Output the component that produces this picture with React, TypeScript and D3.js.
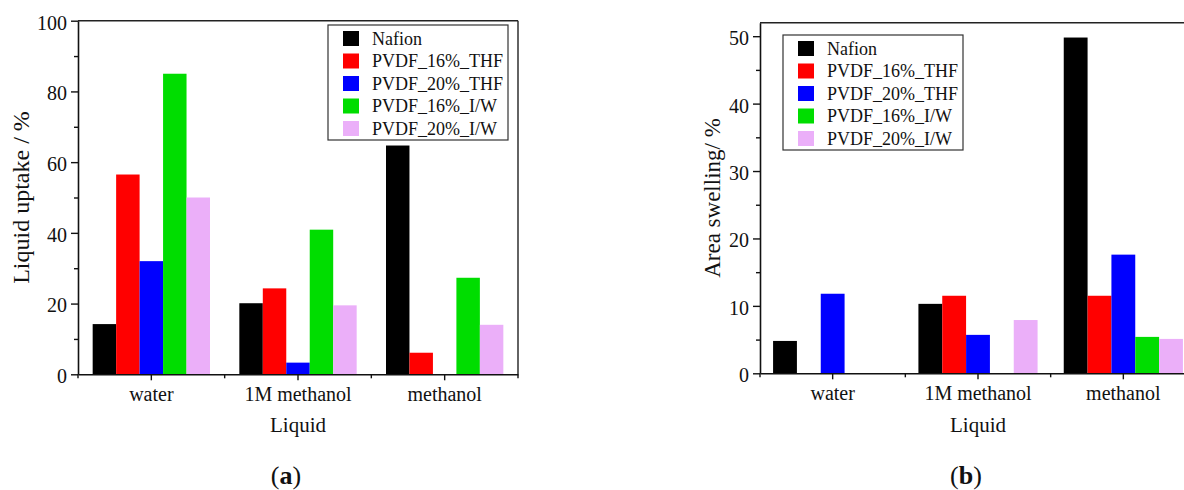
import React, { useEffect, useRef } from 'react';
import * as d3 from 'd3';

// categories and series
const categories = ['water', '1M methanol', 'methanol'];
const seriesNames = ['Nafion', 'PVDF_16%_THF', 'PVDF_20%_THF', 'PVDF_16%_I/W', 'PVDF_20%_I/W'];
const seriesColors = ['#000000', '#ff0000', '#0000ff', '#00dd00', '#ebaff9'];

// (a) liquid uptake / %
const uptakeNafion = [14.2, 20.1, 64.7];
const uptakePvdf16Thf = [56.5, 24.3, 6.1];
const uptakePvdf20Thf = [32.0, 3.3, 0];
const uptakePvdf16Iw = [85.0, 40.9, 27.3];
const uptakePvdf20Iw = [50.0, 19.5, 14.0];
const uptakeTicks = [0, 20, 40, 60, 80, 100];
const uptakeMinor = [10, 30, 50, 70, 90];

// (b) area swelling / %
const swellNafion = [4.8, 10.3, 49.8];
const swellPvdf16Thf = [0, 11.5, 11.5];
const swellPvdf20Thf = [11.8, 5.7, 17.6];
const swellPvdf16Iw = [0, 0, 5.4];
const swellPvdf20Iw = [0, 7.9, 5.1];
const swellTicks = [0, 10, 20, 30, 40, 50];
const swellMinor = [5, 15, 25, 35, 45];

const FONT = '"Liberation Serif", "Times New Roman", serif';

function drawPanel(svg, p) {
    const g = svg.append('g');

    const x = d3.scaleBand().domain(categories).range([p.x0, p.x1]).padding(0);
    const xs = d3.scaleBand()
        .domain(seriesNames)
        .range([x.bandwidth() * p.inset, x.bandwidth() * (1 - p.inset)])
        .padding(0);
    const y = d3.scaleLinear().domain([0, p.yMax]).range([p.y0, p.y1]);

    // bars
    p.series.forEach((vals, i) => {
        g.append('g')
            .selectAll('rect')
            .data(vals)
            .enter().append('rect')
            .attr('x', (d, j) => x(categories[j]) + xs(seriesNames[i]))
            .attr('y', d => y(d))
            .attr('width', xs.bandwidth())
            .attr('height', d => y(0) - y(d))
            .attr('fill', seriesColors[i]);
    });

    // frame (top + right)
    g.append('line')
        .attr('x1', p.x0).attr('x2', p.x1)
        .attr('y1', p.y1).attr('y2', p.y1)
        .attr('stroke', '#222').attr('stroke-width', 1.4);
    g.append('line')
        .attr('x1', p.x1).attr('x2', p.x1)
        .attr('y1', p.y1).attr('y2', p.y0)
        .attr('stroke', '#222').attr('stroke-width', 1.4);

    // y axis
    const yAxis = g.append('g')
        .attr('transform', `translate(${p.x0},0)`)
        .call(d3.axisLeft(y).tickValues(p.ticks).tickSize(7).tickPadding(4).tickSizeOuter(0))
        .attr('font-family', FONT)
        .attr('font-size', 20);
    g.append('g')
        .attr('transform', `translate(${p.x0},0)`)
        .call(d3.axisLeft(y).tickValues(p.minor).tickSize(4).tickFormat(() => '').tickSizeOuter(0))
        .select('.domain').remove();
    yAxis.selectAll('text')
        .attr('dy', '0.42em')
        .attr('fill', '#111');

    // x axis
    const xAxis = g.append('g')
        .attr('transform', `translate(0,${p.y0})`)
        .call(d3.axisBottom(x).tickSize(6).tickPadding(7).tickSizeOuter(0))
        .attr('font-family', FONT)
        .attr('font-size', 20);
    xAxis.selectAll('text').attr('fill', '#111');
    const bounds = categories.map(c => x(c)).concat([p.x1]);
    g.append('g')
        .selectAll('line')
        .data(bounds)
        .enter().append('line')
        .attr('x1', d => d).attr('x2', d => d)
        .attr('y1', p.y0).attr('y2', p.y0 + 4)
        .attr('stroke', '#111').attr('stroke-width', 1.4);

    g.selectAll('.domain').attr('stroke', '#111').attr('stroke-width', 1.6);
    g.selectAll('.tick line').attr('stroke', '#111').attr('stroke-width', 1.4);

    // axis titles
    g.append('text')
        .attr('transform', `translate(${p.titleX},${(p.y0 + p.y1) / 2}) rotate(-90)`)
        .attr('text-anchor', 'middle')
        .attr('font-family', FONT)
        .attr('font-size', p.titleSize)
        .attr('fill', '#111')
        .text(p.yTitle);
    g.append('text')
        .attr('x', p.x0 + x.step() * 1.5)
        .attr('y', 432)
        .attr('text-anchor', 'middle')
        .attr('font-family', FONT)
        .attr('font-size', 21)
        .attr('fill', '#111')
        .text('Liquid');

    // legend
    const lg = g.append('g').attr('transform', `translate(${p.legX},${p.legY})`);
    lg.append('rect')
        .attr('width', 180).attr('height', 115)
        .attr('fill', 'white').attr('stroke', '#333').attr('stroke-width', 1.2);
    seriesNames.forEach((name, i) => {
        const cy = 13.5 + i * 22.5;
        lg.append('rect')
            .attr('x', 15).attr('y', cy - 7.5)
            .attr('width', 16).attr('height', 15)
            .attr('fill', seriesColors[i]);
        lg.append('text')
            .attr('x', 44).attr('y', cy)
            .attr('dy', '0.36em')
            .attr('font-family', FONT)
            .attr('font-size', 18)
            .attr('fill', '#111')
            .text(name);
    });

    // caption
    const cap = g.append('text')
        .attr('x', p.capX).attr('y', 484)
        .attr('text-anchor', 'middle')
        .attr('font-family', FONT)
        .attr('font-size', 26)
        .attr('fill', '#111');
    cap.append('tspan').text('(');
    cap.append('tspan').attr('font-weight', 'bold').text(p.capLetter);
    cap.append('tspan').text(')');
}

export default function App() {
    const ref = useRef(null);

    useEffect(() => {
        const svg = d3.select(ref.current);
        svg.selectAll('*').remove();

        drawPanel(svg, {
            x0: 78, x1: 518, y0: 374.3, y1: 20.7, yMax: 100, inset: 0.1,
            series: [uptakeNafion, uptakePvdf16Thf, uptakePvdf20Thf, uptakePvdf16Iw, uptakePvdf20Iw],
            ticks: uptakeTicks, minor: uptakeMinor,
            yTitle: 'Liquid uptake / %', titleX: 29, titleSize: 24,
            legX: 328, legY: 25, capX: 286, capLetter: 'a',
        });

        drawPanel(svg, {
            x0: 760, x1: 1196, y0: 373.3, y1: 22.7, yMax: 52, inset: 0.09,
            series: [swellNafion, swellPvdf16Thf, swellPvdf20Thf, swellPvdf16Iw, swellPvdf20Iw],
            ticks: swellTicks, minor: swellMinor,
            yTitle: 'Area swelling/ %', titleX: 720, titleSize: 23,
            legX: 783, legY: 35, capX: 966, capLetter: 'b',
        });
    }, []);

    return (
        <div style={{ position: 'absolute', left: 0, top: 0 }}>
            <svg ref={ref} width={1184} height={490} style={{ display: 'block', background: 'white' }}></svg>
        </div>
    );
}
